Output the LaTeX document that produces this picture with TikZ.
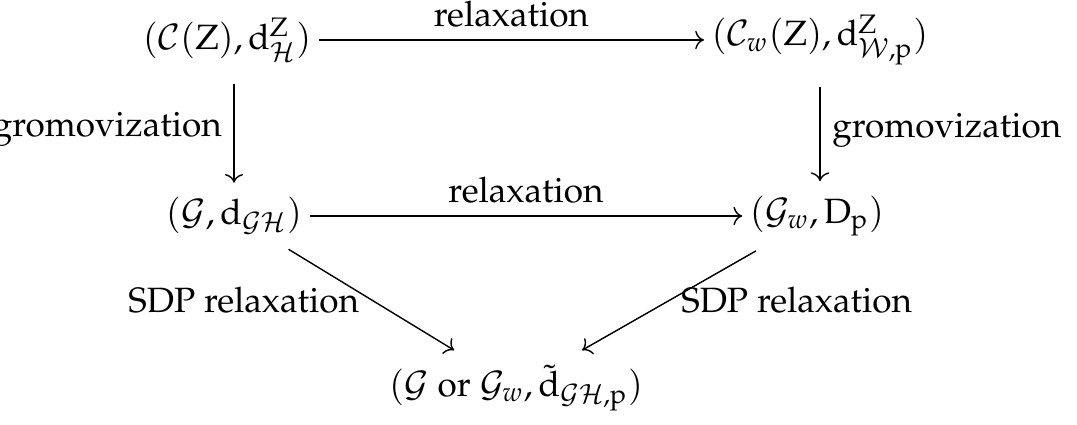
\documentclass[tikz,border=0pt]{standalone}
\usepackage[T1]{fontenc}
\usepackage{mathpazo}
\usepackage{amsmath}
\usepackage{tikz}
\usetikzlibrary{arrows.meta}

\begin{document}
\begin{tikzpicture}[
    x=0.01cm, y=-0.01cm,
    every node/.style={font=\normalsize, inner sep=3.3pt},
    space/.style={inner sep=4pt},
    map/.style={draw, -{To}, line width=0.4pt},
    long/.style={shorten <=-2pt, shorten >=-2pt}
]
\useasboundingbox (0,0) rectangle (1077,425);
% the five spaces
\node[space] (czh) at (227,40)  {$(\mathcal{C}(\mathrm{Z}), \mathrm{d}^{\mathrm{Z}}_{\mathcal{H}})$};
\node[space] (cwz) at (820,40)  {$(\mathcal{C}_w(\mathrm{Z}), \mathrm{d}^{\mathrm{Z}}_{\mathcal{W},\mathrm{p}})$};
\node[space] (ggh) at (234,216) {$(\mathcal{G}, \mathrm{d}_{\mathcal{G}\mathcal{H}})$};
\node[space] (gwd) at (817,216) {$(\mathcal{G}_w, \mathrm{D}_{\mathrm{p}})$};
\node[space] (gor) at (516,388) {$(\mathcal{G} \text{ or } \mathcal{G}_w, \tilde{\mathrm{d}}_{\mathcal{G}\mathcal{H},\mathrm{p}})$};
% maps
\draw[map, long] (czh) -- node[above] {relaxation} (cwz);
\draw[map, long] (ggh) -- node[above] {relaxation} (gwd);
\draw[map, shorten <=2pt] (ggh.north |- czh.south) -- node[left] {gromovization} (ggh.north);
\draw[map, shorten <=2pt] (cwz.south) -- node[right] {gromovization} (cwz.south |- gwd.north);
\draw[map] (ggh) -- node[left] {SDP relaxation} (gor);
\draw[map] (gwd) -- node[right] {SDP relaxation} (gor);
\end{tikzpicture}
\end{document}
